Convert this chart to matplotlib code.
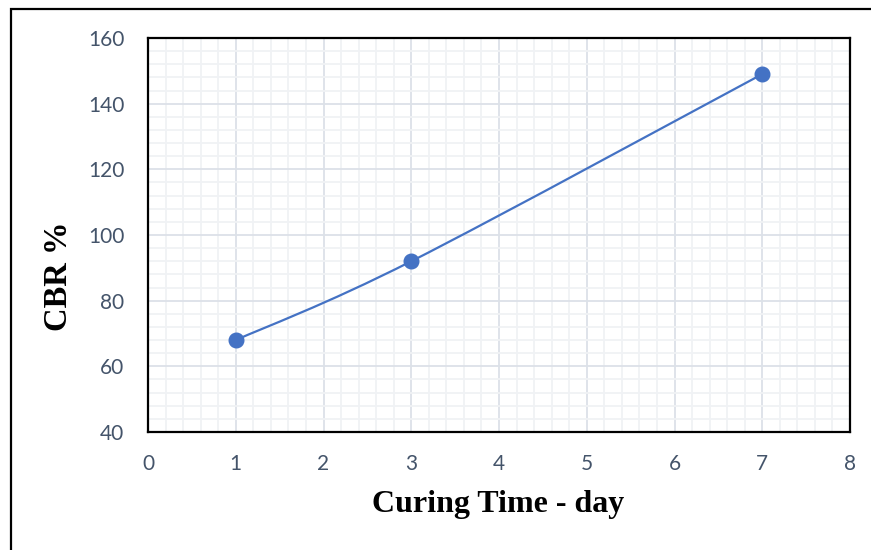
import numpy as np
import matplotlib.pyplot as plt
from matplotlib.path import Path
from matplotlib.patches import PathPatch, Rectangle
from matplotlib.ticker import MultipleLocator

# data
curing_days = [1, 3, 7]
cbr_pct = [68, 92, 149]

x_ticks = list(range(0, 9))
y_ticks = list(range(40, 161, 20))

blue = '#4472C4'
tick_col = '#44546A'

fig = plt.figure(figsize=(8.71, 5.5), dpi=100)
ax = fig.add_axes([148 / 871, 118 / 550, 702 / 871, 394 / 550])

# smoothed line like a spreadsheet "smooth line": cubic bezier segments
pts = np.column_stack([curing_days, cbr_pct]).astype(float)
verts = [pts[0]]
codes = [Path.MOVETO]
n = len(pts)
for i in range(n - 1):
    p0 = pts[i - 1] if i > 0 else pts[i]
    p1 = pts[i]
    p2 = pts[i + 1]
    p3 = pts[i + 2] if i + 2 < n else pts[i + 1]
    c1 = p1 + (p2 - p0) / 6
    c2 = p2 - (p3 - p1) / 6
    verts += [c1, c2, p2]
    codes += [Path.CURVE4] * 3
ax.add_patch(PathPatch(Path(verts, codes), facecolor='none', edgecolor=blue,
                       lw=1.6, zorder=3))
ax.plot(curing_days, cbr_pct, 'o', color=blue, ms=10.5, zorder=4)

ax.set_xlim(0, 8)
ax.set_ylim(40, 160)
ax.set_xticks(x_ticks)
ax.set_yticks(y_ticks)
ax.xaxis.set_minor_locator(MultipleLocator(0.2))
ax.yaxis.set_minor_locator(MultipleLocator(4))
ax.grid(which='major', color='#DCE1E8', lw=1.3, zorder=0)
ax.grid(which='minor', color='#F0F2F5', lw=1.3, zorder=0)
ax.set_axisbelow(True)
ax.tick_params(which='both', length=0, labelsize=15, labelcolor=tick_col)
ax.tick_params(axis='x', pad=16)
ax.tick_params(axis='y', pad=17)
for lab in ax.get_xticklabels() + ax.get_yticklabels():
    lab.set_family('Lato')
for s in ax.spines.values():
    s.set_linewidth(1.6)
    s.set_color('black')

ax.text(0.4993, -0.183, 'Curing Time - day', transform=ax.transAxes,
        ha='center', va='center', fontsize=23, fontweight='bold',
        family='Liberation Serif')
ax.text(-0.128, 0.396, 'CBR %', transform=ax.transAxes, rotation=90,
        ha='center', va='center', fontsize=23.5, fontweight='bold',
        family='Liberation Serif')

# outer frame of the picture
fig.patches.append(Rectangle((11 / 871, -0.1), 1.2, 0.1 + 1 - 9 / 550,
                             transform=fig.transFigure, fill=False,
                             edgecolor='black', lw=1.6))

fig.savefig('out.png', dpi=100)
